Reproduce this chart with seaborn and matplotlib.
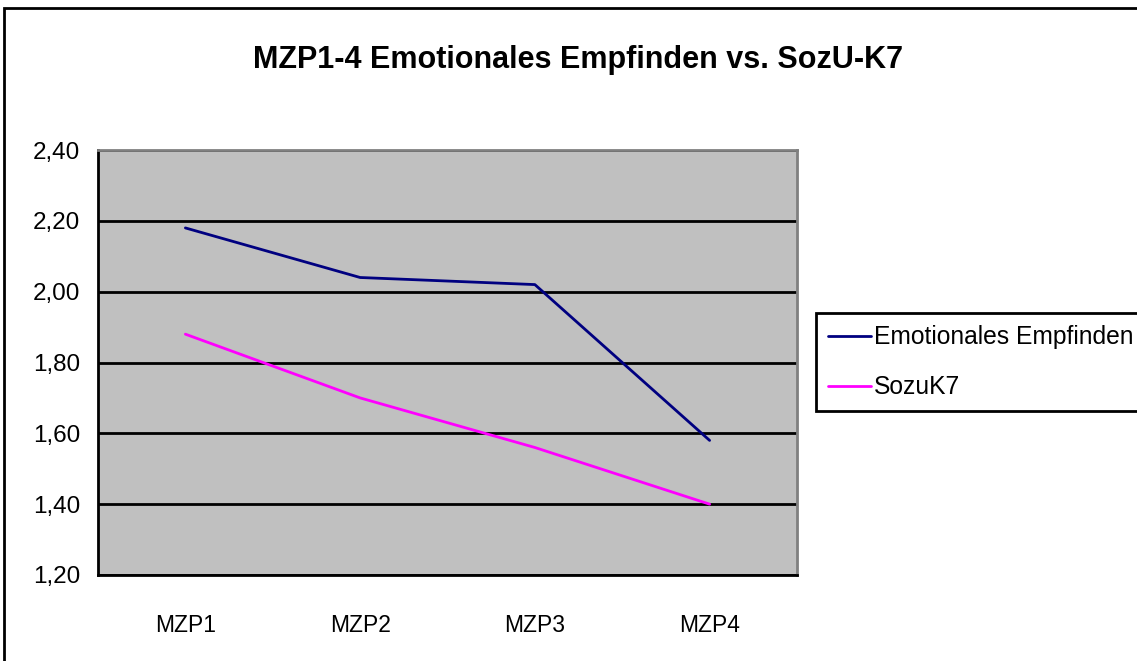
import matplotlib
matplotlib.use("Agg")
import matplotlib.pyplot as plt
import seaborn as sns
import pandas as pd
from matplotlib.patches import Rectangle
from matplotlib.ticker import FixedLocator, FuncFormatter

# Daten
zeitpunkte = ["MZP1", "MZP2", "MZP3", "MZP4"]
emotionales_empfinden = [2.18, 2.04, 2.02, 1.58]
sozu_k7 = [1.88, 1.70, 1.56, 1.40]
serien = ["Emotionales Empfinden", "SozuK7"]
farben = ["#000080", "#FF00FF"]
y_ticks = [1.20, 1.40, 1.60, 1.80, 2.00, 2.20, 2.40]

df = pd.DataFrame({
    "MZP": zeitpunkte * 2,
    "Wert": emotionales_empfinden + sozu_k7,
    "Serie": [serien[0]] * 4 + [serien[1]] * 4,
})

sns.set_style("white")
plt.rcParams["font.family"] = ["Liberation Sans", "DejaVu Sans"]
plt.rcParams["text.color"] = "black"
plt.rcParams["xtick.color"] = "black"
plt.rcParams["ytick.color"] = "black"

fig = plt.figure(figsize=(11.37, 6.61), dpi=100)
ax = fig.add_axes([98 / 1137, 86 / 661, 699 / 1137, 425 / 661])
ax.set_facecolor("#C0C0C0")

sns.lineplot(data=df, x="MZP", y="Wert", hue="Serie", palette=farben,
             linewidth=2, ax=ax, sort=False)

ax.set_ylim(1.20, 2.40)
ax.set_xlim(-0.5, 3.5)
ax.set_yticks(y_ticks)
ax.yaxis.set_major_formatter(FuncFormatter(lambda v, p: f"{v:.2f}".replace(".", ",")))
ax.grid(axis="y", color="black", linewidth=2)
ax.grid(axis="x", visible=False)
ax.set_axisbelow(True)

ax.set_xticks(range(len(zeitpunkte)))
ax.set_xticklabels(zeitpunkte)
ax.xaxis.set_minor_locator(FixedLocator([-0.5, 0.5, 1.5, 2.5, 3.5]))
ax.tick_params(axis="x", which="major", length=0, pad=28, labelsize=16.5)
ax.tick_params(axis="x", which="minor", length=7, width=1.5, color="black", direction="out")
ax.tick_params(axis="y", length=7, width=1.5, color="black", direction="out", labelsize=17.5, pad=6)
ax.set_xlabel("")
ax.set_ylabel("")

for s in ["left", "bottom"]:
    ax.spines[s].set_color("black")
    ax.spines[s].set_linewidth(2)
for s in ["top", "right"]:
    ax.spines[s].set_color("#808080")
    ax.spines[s].set_linewidth(2)

leg = ax.legend(loc="upper left", bbox_to_anchor=(816 / 1137, 1 - 313 / 661),
                bbox_transform=fig.transFigure, fontsize=17.7, frameon=True,
                fancybox=False, framealpha=1, handlelength=1.75, handletextpad=0.12,
                borderpad=0.5, labelspacing=1.05, borderaxespad=0)
leg.get_frame().set_edgecolor("black")
leg.get_frame().set_linewidth(2)
for line in leg.get_lines():
    line.set_linewidth(2)

fig.text(578 / 1137, 1 - 60 / 661, "MZP1-4 Emotionales Empfinden vs. SozU-K7",
         ha="center", va="center", fontsize=22, fontweight="bold")

fig.patches.append(Rectangle((4 / 1137, -0.1), 1.2, 1 - 8 / 661 + 0.1,
                             transform=fig.transFigure, fill=False,
                             edgecolor="black", linewidth=2, clip_on=False))

fig.savefig("out.png", dpi=100)
